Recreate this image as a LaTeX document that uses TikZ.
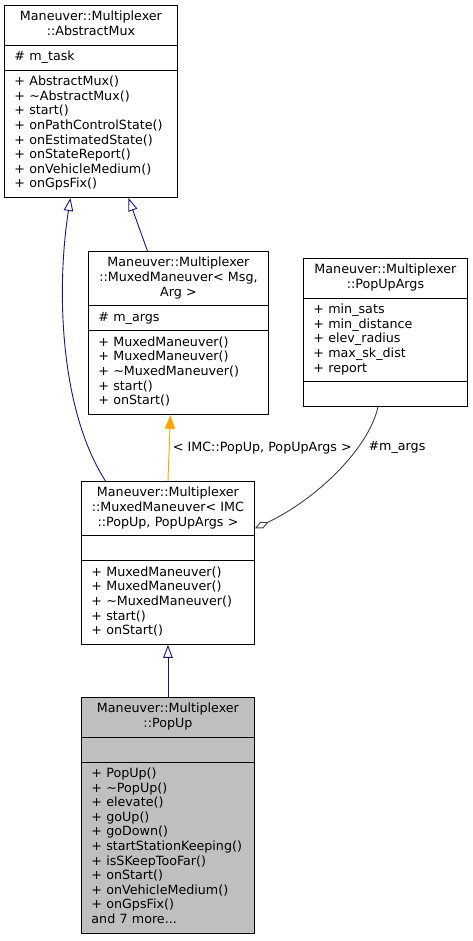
\documentclass[tikz,border=0pt]{standalone}
\usepackage{fontspec}
\setmainfont{DejaVu Sans}
\usetikzlibrary{positioning,shapes.multipart,arrows.meta}
\definecolor{edgeblue}{HTML}{191970}
\definecolor{edgeorange}{HTML}{FFA500}
\definecolor{edgegray}{HTML}{404040}
\definecolor{boxgray}{HTML}{BFBFBF}
\newcommand{\umlfont}{\fontsize{12.7pt}{14.6pt}\selectfont}
\newcommand{\classtitle}[1]{\hbox to\hsize{\hfil\begin{tabular}{@{}c@{}}#1\end{tabular}\hfil}}

\begin{document}
\begin{tikzpicture}[x=1pt, y=1pt,
    classbox/.style={rectangle split, rectangle split parts=3, draw=black, line width=0.9pt,
                     inner xsep=10pt, inner ysep=4.8pt, text width=#1, font=\umlfont, anchor=north west},
    inherit/.style={draw=edgeblue, line width=0.9pt, -{Triangle[open, length=13pt, width=9.5pt]}},
    realize/.style={draw=edgeorange, line width=0.9pt, -{Triangle[length=14pt, width=10pt]}, fill=edgeorange},
    member/.style={draw=edgegray, line width=0.9pt, -{Diamond[open, length=15pt, width=7pt]}},
    edgelabel/.style={font=\umlfont, fill=none},]
    \useasboundingbox (0,0) rectangle (472,-941);
    % nodes
    \node[classbox=153pt]              (abstractmux)  at (4,-5)
        {\classtitle{Maneuver::Multiplexer\\::AbstractMux}
         \nodepart{two}\raggedright\strut\# m\_task\strut
         \nodepart{three}\raggedright\strut + AbstractMux()\\+ \textasciitilde AbstractMux()\\+ start()\\+ onPathControlState()\\+ onEstimatedState()\\+ onStateReport()\\+ onVehicleMedium()\\+ onGpsFix()\strut};
    \node[classbox=160pt]              (muxedgen)     at (88,-251)
        {\classtitle{Maneuver::Multiplexer\\::MuxedManeuver< Msg,\\Arg >}
         \nodepart{two}\raggedright\strut\# m\_args\strut
         \nodepart{three}\raggedright\strut + MuxedManeuver()\\+ MuxedManeuver()\\+ \textasciitilde MuxedManeuver()\\+ start()\\+ onStart()\strut};
    \node[classbox=144pt]              (popupargs)    at (303,-258)
        {\classtitle{Maneuver::Multiplexer\\::PopUpArgs}
         \nodepart{two}\raggedright\strut + min\_sats\\+ min\_distance\\+ elev\_radius\\+ max\_sk\_dist\\+ report\strut
         \nodepart{three}\strut};
    \node[classbox=153pt]              (popupinst)    at (81,-481)
        {\classtitle{Maneuver::Multiplexer\\::MuxedManeuver< IMC\\::PopUp, PopUpArgs >}
         \nodepart{two}\strut
         \nodepart{three}\raggedright\strut + MuxedManeuver()\\+ MuxedManeuver()\\+ \textasciitilde MuxedManeuver()\\+ start()\\+ onStart()\strut};
    \node[classbox=153pt, fill=boxgray] (popup)        [below=52pt of popupinst]
        {\classtitle{Maneuver::Multiplexer\\::PopUp}
         \nodepart{two}\strut
         \nodepart{three}\raggedright\strut + PopUp()\\+ \textasciitilde PopUp()\\+ elevate()\\+ goUp()\\+ goDown()\\+ startStationKeeping()\\+ isSKeepTooFar()\\+ onStart()\\+ onVehicleMedium()\\+ onGpsFix()\\and 7 more...\strut};
    % lines
    \draw[inherit] ([xshift=-31pt]muxedgen.north) -- ([xshift=37.5pt]abstractmux.south);
    \draw[inherit] ([xshift=-62.5pt]popupinst.north) .. controls (60,-410) and (56,-290) .. ([xshift=-20.5pt]abstractmux.south);
    \draw[realize] (popupinst.north) -- node[edgelabel, right] (instlabel) {< IMC::PopUp, PopUpArgs >} ([xshift=-8pt]muxedgen.south);
    \draw[member] ([xshift=-7.5pt]popupargs.south) .. controls (368,-450) and (315,-500) .. ([yshift=34.5pt]popupinst.east);
    \node[edgelabel, anchor=west] (argslabel) at (365,-447) {\#m\_args};
    \draw[inherit] (popup.north) -- (popupinst.south);
\end{tikzpicture}
\end{document}
